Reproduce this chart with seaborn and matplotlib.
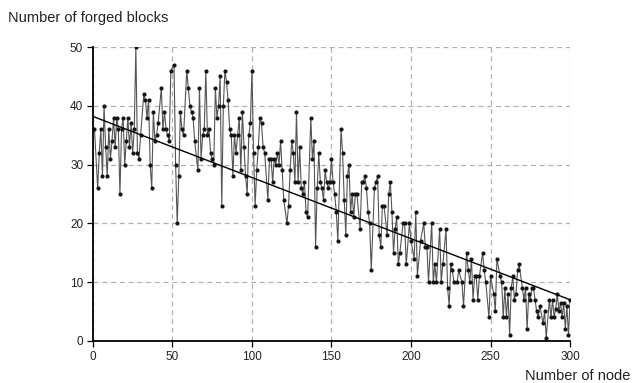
import numpy as np
import pandas as pd
import matplotlib
matplotlib.use("Agg")
import matplotlib.pyplot as plt
import seaborn as sns

# node index and number of forged blocks
nodes = [0, 1, 3, 4, 5, 6, 7, 8, 9, 10, 11, 12, 13, 14, 15, 16, 17, 18, 19, 20, 21, 22, 23, 24, 25, 26, 27,
         28, 29, 30, 32, 33, 34, 35, 36, 37, 38, 39, 40, 41, 43, 44, 45, 46, 47, 48, 49, 51, 52, 53, 54, 55,
         56, 57, 59, 60, 61, 62, 63, 64, 66, 67, 68, 69, 70, 71, 72, 73, 74, 75, 76, 77, 78, 79, 80, 81, 82, 83, 84,
         85, 86, 87, 88, 89, 90, 91, 92, 93, 94, 95, 96, 97, 98, 99, 100, 101, 102, 103, 104, 105, 106, 107, 108, 110, 111, 112, 113,
         114, 115, 116, 117, 118, 119, 120, 122, 123, 124, 125, 126, 127, 128, 129, 130, 131, 132, 133, 134, 135, 137, 138, 139, 140, 141,
         142, 143, 144, 145, 146, 147, 148, 149, 150, 151, 152, 153, 154, 156, 157, 158, 159, 160, 161, 162, 163, 164, 165, 166, 168, 169, 170,
         171, 172, 173, 174, 175, 177, 178, 179, 180, 181, 182, 183, 185, 186, 187, 188, 189, 190, 191, 192, 193, 195, 196, 197, 199,
         200, 202, 203, 204, 206, 208, 209, 210, 211, 213, 214, 215, 216, 218, 219, 220, 222, 223, 224, 225, 226, 227, 229,
         230, 232, 233, 235, 236, 237, 238, 239, 240, 241, 242, 243, 245, 246, 247, 249, 250, 252, 253, 254, 256, 257, 258,
         259, 260, 261, 262, 263, 264, 265, 266, 267, 268, 270, 271, 272, 273, 274, 275, 276, 277, 278, 279, 280, 281, 283, 284, 285, 287,
         288, 289, 290, 291, 292, 293, 294, 295, 296, 297, 298, 299, 300]

blocks = [36, 36, 26, 32, 36, 28, 40, 33, 28, 36, 31, 34, 38, 33, 38, 36, 25, 36, 38, 30, 34, 38, 33, 37, 32, 36, 50,
          32, 31, 35, 42, 41, 38, 41, 30, 26, 39, 34, 35, 37, 43, 36, 39, 36, 35, 34, 46, 47, 30, 20, 28, 39,
          36, 35, 46, 43, 40, 39, 38, 34, 29, 43, 31, 35, 36, 46, 35, 36, 32, 31, 30, 43, 38, 40, 45, 23, 40, 46, 44,
          41, 36, 35, 28, 35, 32, 35, 38, 29, 39, 33, 28, 25, 35, 37, 46, 32, 23, 29, 33, 38, 37, 33, 32, 24, 31, 31, 27,
          31, 30, 32, 30, 34, 29, 24, 20, 23, 29, 34, 32, 27, 39, 27, 33, 26, 25, 27, 22, 21, 38, 31, 34, 16, 26,
          32, 27, 26, 24, 29, 27, 26, 27, 31, 27, 25, 22, 17, 36, 32, 24, 18, 28, 30, 22, 25, 21, 25, 25, 19, 27, 27,
          28, 26, 22, 20, 12, 26, 27, 28, 18, 16, 23, 23, 18, 25, 27, 22, 15, 19, 21, 13, 15, 20, 20, 13, 20,
          17, 14, 22, 11, 17, 20, 16, 16, 10, 20, 10, 13, 10, 19, 10, 13, 19, 9, 6, 13, 12, 10, 10,
          12, 10, 6, 15, 12, 10, 14, 7, 11, 11, 7, 11, 15, 12, 10, 4, 11, 8, 5, 14, 11, 10, 4,
          9, 4, 8, 1, 9, 11, 7, 8, 12, 13, 9, 7, 9, 2, 8, 7, 9, 9, 7, 5, 4, 6, 3, 5, 0.5, 7,
          4, 7, 4, 5.5, 8, 5, 6.5, 4, 6.5, 2, 6, 1, 7]

# trend line as drawn in the reference
trend_nodes = [0, 300]
trend_blocks = [38.2, 7.0]

x_ticks = [0, 50, 100, 150, 200, 250, 300]
y_ticks = [0, 10, 20, 30, 40, 50]
x_label = "Number of node"
y_label = "Number of forged blocks"

df = pd.DataFrame({"node": nodes, "blocks": blocks})
trend = pd.DataFrame({"node": trend_nodes, "blocks": trend_blocks})

sns.set_style("white")
plt.rcParams["font.family"] = ["Liberation Sans", "DejaVu Sans"]

fig = plt.figure(figsize=(6.32, 3.83), dpi=100)
ax = fig.add_axes([0.147, 0.110, 0.755, 0.767])

sns.lineplot(data=df, x="node", y="blocks", ax=ax, color="#555555", lw=0.8,
             marker="o", markersize=3.0, markerfacecolor="#151515",
             markeredgecolor="#151515", markeredgewidth=0, estimator=None, sort=False)
sns.lineplot(data=trend, x="node", y="blocks", ax=ax, color="black", lw=1.0,
             estimator=None, sort=False)

ax.set_xlim(0, 300)
ax.set_ylim(0, 50)
ax.set_xticks(x_ticks)
ax.set_yticks(y_ticks)
ax.grid(True, color="#b0b0b0", linestyle=(0, (4, 3)), linewidth=0.9)
ax.set_axisbelow(True)
for s in ["top", "right"]:
    ax.spines[s].set_visible(False)
for s in ["left", "bottom"]:
    ax.spines[s].set_color("black")
    ax.spines[s].set_linewidth(1.3)
ax.tick_params(axis="both", direction="out", length=4, width=0.9, color="black",
               labelsize=8.5, labelcolor="#222222", pad=3, left=True, bottom=True)
ax.set_xlabel("")
ax.set_ylabel("")
fig.text(0.012, 0.953, y_label, fontsize=10.5, color="#222222", ha="left", va="center")
fig.text(0.997, 0.018, x_label, fontsize=10.5, color="#222222", ha="right", va="center")

fig.savefig("out.png", dpi=100)
